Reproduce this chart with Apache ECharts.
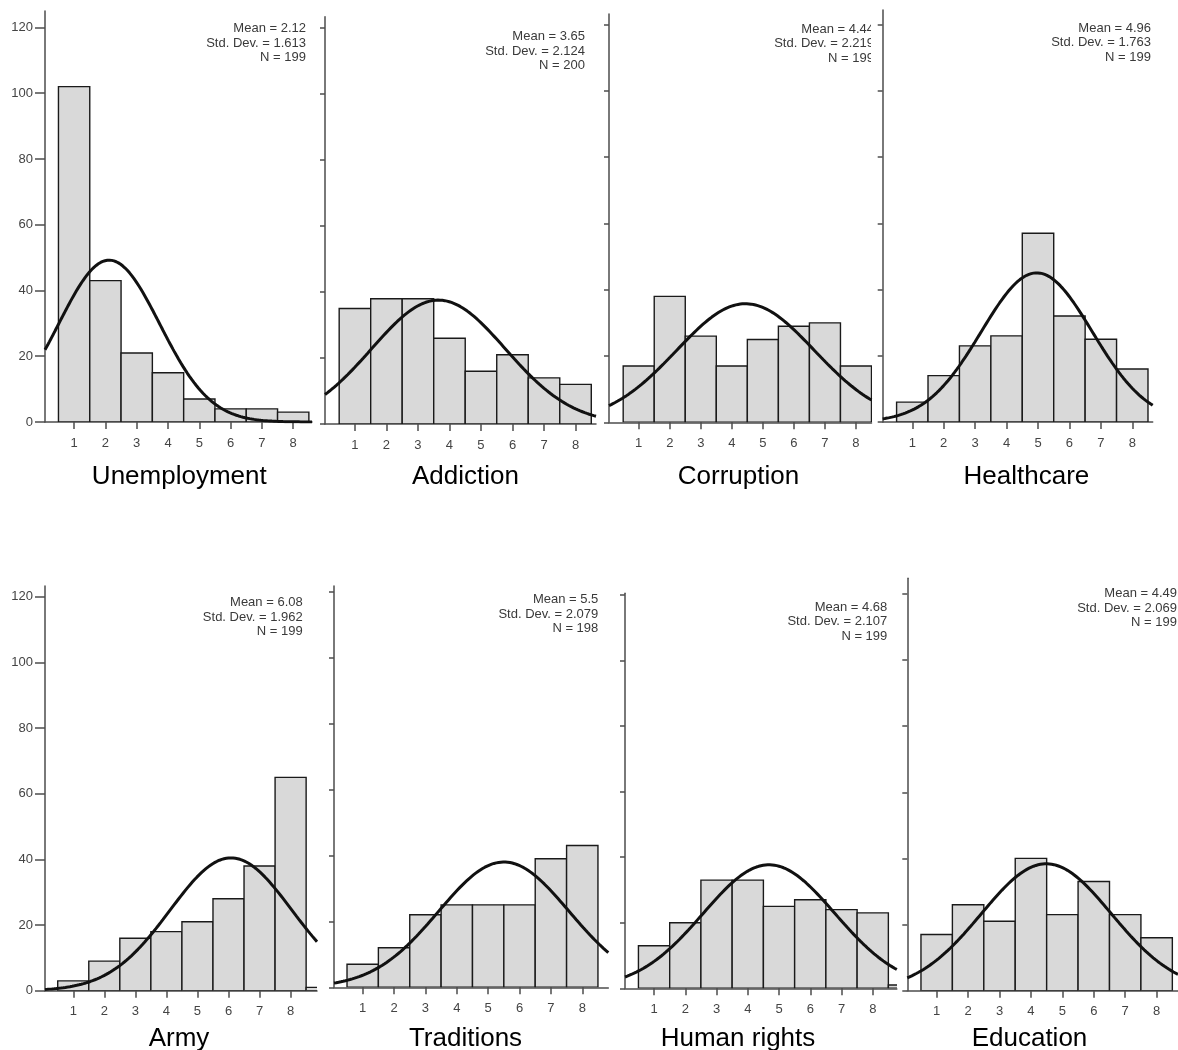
<!DOCTYPE html>
<html><head><meta charset="utf-8">
<script src="https://cdn.jsdelivr.net/npm/echarts@6/dist/echarts.min.js"></script>
<style>html,body{margin:0;padding:0;background:#fff}#c{width:1178px;height:1050px}</style>
</head><body><div id="c"></div>
<script>
// ---- data ----
const names = ['Unemployment','Addiction','Corruption','Healthcare','Army','Traditions','Human rights','Education'];
const bins = [1,2,3,4,5,6,7,8,9];
const unemployment = [102,43,21,15,7,4,4,3,0];
const addiction    = [35,38,38,26,16,21,14,12,0];
const corruption   = [17,38,26,17,25,29,30,17,0];
const healthcare   = [6,14,23,26,57,32,25,16,0];
const army         = [3,9,16,18,21,28,38,65,1];
const traditions   = [7,12,22,25,25,25,39,43,0];
const humanRights  = [13,20,33,33,25,27,24,23,1];
const education    = [17,26,21,40,23,33,23,16,0];
const means   = [2.12,3.65,4.44,4.96,6.08,5.5,4.68,4.49];
const stdDevs = [1.613,2.124,2.219,1.763,1.962,2.079,2.107,2.069];
const ns      = [199,200,199,199,199,198,199,199];
const xTicks = [1,2,3,4,5,6,7,8];
const yTicks = [0,20,40,60,80,100,120];
const counts = [unemployment,addiction,corruption,healthcare,army,traditions,humanRights,education];

// ---- layout (pixels) ----
const layout = [
 {left:45,   top:11,    width:267,   height:411,   xmin:0.07,  xmax:8.6,  ymax:125,   labels:true, sx:306,   sy:43.3,  tx:179.3,  ty:477},
 {left:325,  top:16.7,  width:271,   height:407.3, xmin:0.05,  xmax:8.65, ymax:123.5, sx:585,   sy:51,    tx:465.5,  ty:477},
 {left:609,  top:14,    width:262.5, height:408.3, xmin:0.043, xmax:8.5,  ymax:123.2, sx:874,   sy:43.7,  tx:738.5,  ty:477},
 {left:882.7,top:10,    width:270,   height:412,   xmin:0.058, xmax:8.65, ymax:124.4, sx:1151,  sy:42.7,  tx:1026.4, ty:477},
 {left:45,   top:586,   width:272,   height:404.7, xmin:0.09,  xmax:8.85, ymax:123.3, labels:true, sx:302.7, sy:617,   tx:179,    ty:1039},
 {left:334,  top:586,   width:274.3, height:401.3, xmin:0.085, xmax:8.83, ymax:121.7, sx:598.3, sy:614.3, tx:465.5,  ty:1039},
 {left:625,  top:593.3, width:271.8, height:395,   xmin:0.07,  xmax:8.77, ymax:120.5, sx:887.3, sy:621.7, tx:738,    ty:1039},
 {left:907.3,top:578.3, width:270.7, height:412.4, xmin:0.065, xmax:8.68, ymax:124.7, sx:1177,  sy:608.3, tx:1029.5, ty:1039}
];

const FONT = '"Liberation Sans", Arial, sans-serif';
const axisColor = '#4d4d4d';

function normalCurve(i, lo, hi) {
  const m = means[i], s = stdDevs[i], n = ns[i];
  const pts = [];
  const steps = 240;
  for (let k = 0; k <= steps; k++) {
    const x = lo + (hi - lo) * k / steps;
    const z = (x - m) / s;
    pts.push([x, n / (s * Math.sqrt(2 * Math.PI)) * Math.exp(-0.5 * z * z)]);
  }
  return pts;
}

const grid = [], xAxis = [], yAxis = [], series = [], graphic = [];
layout.forEach((L, i) => {
  grid.push({left:L.left, top:L.top, width:L.width, height:L.height, containLabel:false});
  xAxis.push({
    type:'value', gridIndex:i, min:L.xmin, max:L.xmax,
    axisLine:{show:true, onZero:false, lineStyle:{color:axisColor, width:1.5}},
    axisTick:{show:true, customValues:xTicks, length:7, lineStyle:{color:axisColor, width:1.5}},
    axisLabel:{show:true, customValues:xTicks, margin:14.5, fontSize:13, color:'#444', fontFamily:FONT},
    splitLine:{show:false}
  });
  yAxis.push({
    type:'value', gridIndex:i, min:0, max:L.ymax,
    axisLine:{show:true, onZero:false, lineStyle:{color:axisColor, width:1.5}},
    axisTick:{show:true, customValues:yTicks, length:L.labels ? 10 : 5, lineStyle:{color:axisColor, width:1.5}},
    axisLabel:{show:!!L.labels, customValues:yTicks, margin:12, fontSize:13, color:'#444', fontFamily:FONT},
    splitLine:{show:false}
  });
  series.push({
    type:'custom', xAxisIndex:i, yAxisIndex:i, clip:true, z:2,
    data: bins.map((b, k) => [b, counts[i][k]]),
    renderItem(params, api) {
      const x = api.value(0), c = api.value(1);
      if (!c) return null;
      const p0 = api.coord([x - 0.5, c]);
      const p1 = api.coord([x + 0.5, 0]);
      return {type:'rect', shape:{x:p0[0], y:p0[1], width:p1[0]-p0[0], height:p1[1]-p0[1]},
              style:{fill:'#d9d9d9', stroke:'#1a1a1a', lineWidth:1.4}};
    }
  });
  series.push({
    type:'line', xAxisIndex:i, yAxisIndex:i, clip:true, z:3,
    data: normalCurve(i, L.xmin, L.xmax), showSymbol:false, smooth:false,
    lineStyle:{color:'#111', width:3}
  });
  graphic.push({
    type:'text', x:L.sx, y:L.sy, z:50,
    style:{text:'Mean = ' + means[i] + '\nStd. Dev. = ' + stdDevs[i].toFixed(3) + '\nN = ' + ns[i],
           font:'13px ' + FONT, fill:'#3a3a3a', lineHeight:14.5,
           align:'right', verticalAlign:'middle', textAlign:'right', textVerticalAlign:'middle'}
  });
  graphic.push({
    type:'text', x:L.tx, y:L.ty, z:50,
    style:{text:names[i], font:'26px ' + FONT, fill:'#000',
           align:'center', verticalAlign:'middle', textAlign:'center', textVerticalAlign:'middle'}
  });
});
// panel edge between Corruption and Healthcare
graphic.push({type:'rect', z:100, shape:{x:871, y:15, width:6, height:60}, style:{fill:'#fff'}});

const chart = echarts.init(document.getElementById('c'), null, {renderer:'canvas'});
chart.setOption({animation:false, backgroundColor:'#fff', grid, xAxis, yAxis, series, graphic});
</script>
</body></html>
